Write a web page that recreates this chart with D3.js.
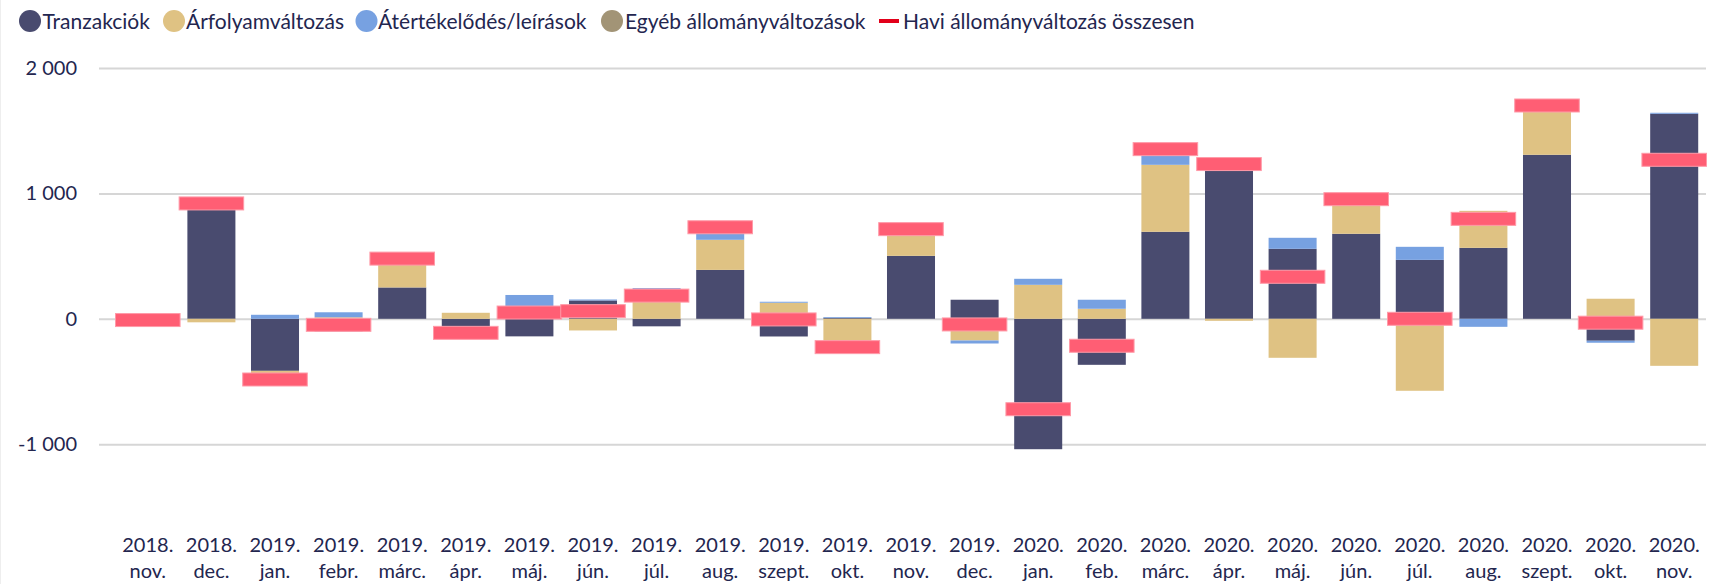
<!DOCTYPE html>
<html>
<head>
<meta charset="utf-8">
<script src="https://cdn.jsdelivr.net/npm/d3@7"></script>
<style>
  html, body { margin: 0; padding: 0; background: #ffffff; }
  svg { display: block; font-family: Lato, "Open Sans", "DejaVu Sans", sans-serif; }
</style>
</head>
<body>
<svg id="chart" width="1716" height="584"></svg>
<script>
// ---- data ----
const categoryYears  = ["2018.","2018.","2019.","2019.","2019.","2019.","2019.","2019.","2019.","2019.","2019.","2019.","2019.","2019.","2020.","2020.","2020.","2020.","2020.","2020.","2020.","2020.","2020.","2020.","2020."];
const categoryMonths = ["nov.","dec.","jan.","febr.","márc.","ápr.","máj.","jún.","júl.","aug.","szept.","okt.","nov.","dec.","jan.","feb.","márc.","ápr.","máj.","jún.","júl.","aug.","szept.","okt.","nov."];
const tranzakciok    = [-10, 945, -415, -100, 250, -160, -140, 146, -60, 390, -141, 8, 502, 152, -1040, -367, 694, 1250, 558, 678, 470, 566, 1308, -175, 1635];
const arfolyam       = [0, -28, -100, 12, 230, 48, 30, -93, 220, 240, 128, -240, 213, -173, 271, 80, 534, -16, -311, 276, -574, 295, 393, 160, -375];
const atertekelodes  = [0, 0, 32, 40, 0, 0, 160, 8, 25, 100, 8, 6, 0, -24, 48, 72, 125, 0, 88, 0, 104, -64, 0, -16, 8];
const egyeb          = [0, 0, 0, 0, 0, 0, 0, 0, 0, 0, 0, 0, 0, 0, 0, 0, 0, 0, 0, 0, 0, 0, 0, 0, 0];
const osszesen       = [-10, 920, -484, -48, 480, -112, 50, 61, 185, 730, -5, -226, 715, -45, -721, -215, 1353, 1234, 335, 954, 0, 797, 1701, -31, 1268];
const yTicks         = [-1000, 0, 1000, 2000];
const seriesNames    = ["Tranzakciók", "Árfolyamváltozás", "Átértékelődés/leírások", "Egyéb állományváltozások"];
const totalName      = "Havi állományváltozás összesen";

// ---- styles ----
const colors = ["#494B6F", "#DFC283", "#77A1E1", "#A29476"];
const markerColor = "#FF5E74";
const legendRed = "#E2001A";
const textColor = "#23264F";
const gridColor = "#D6D6D6";

const svg = d3.select("#chart");
const cats = categoryMonths.map((m, i) => i);

const rows = cats.map(i => ({
  i,
  s0: tranzakciok[i], s1: arfolyam[i], s2: atertekelodes[i], s3: egyeb[i]
}));

const x = d3.scaleBand().domain(cats).range([116, 1706]).paddingInner(0.245).paddingOuter(0.1225);
const y = d3.scaleLinear().domain([-1000, 2000]).range([444.2, 68.0]);

const loc = d3.formatLocale({decimal: ",", thousands: "\u00a0", grouping: [3], currency: ["", ""], minus: "-"});
const fmt = loc.format(",d");

// gridlines + y labels
const yAxis = d3.axisLeft(y).tickValues(yTicks).tickSize(-(1706 - 99)).tickPadding(22).tickFormat(fmt);
const gy = svg.append("g").attr("transform", "translate(99,0)").call(yAxis);
gy.select(".domain").remove();
gy.selectAll(".tick line").attr("stroke", gridColor).attr("stroke-width", 2);
gy.selectAll(".tick text").attr("fill", textColor).attr("font-size", 20)
  .attr("font-family", "Lato, 'Open Sans', sans-serif");

// stacked bars
const stack = d3.stack().keys(["s0", "s1", "s2", "s3"]).offset(d3.stackOffsetDiverging);
const layers = stack(rows);
svg.append("g").selectAll("g").data(layers).join("g")
  .attr("fill", (d, k) => colors[k])
  .selectAll("rect").data(d => d).join("rect")
  .attr("x", d => x(d.data.i))
  .attr("width", x.bandwidth())
  .attr("y", d => y(Math.max(d[0], d[1])))
  .attr("height", d => Math.abs(y(d[0]) - y(d[1])));

// total markers
const mw = x.step() * 1.015, mh = 13;
svg.append("g").selectAll("rect").data(cats).join("rect")
  .attr("x", i => x(i) + x.bandwidth() / 2 - mw / 2)
  .attr("y", i => y(osszesen[i]) - mh / 2)
  .attr("width", mw).attr("height", mh)
  .attr("fill", markerColor)
  .attr("stroke", "#FF9AA8").attr("stroke-width", 1);

// x axis labels
const xAxis = d3.axisBottom(x).tickSize(0).tickFormat(() => "");
const gx = svg.append("g").call(xAxis);
gx.select(".domain").remove();
gx.selectAll(".tick text").each(function(i) {
  const t = d3.select(this).attr("y", null).attr("dy", null)
    .attr("fill", textColor).attr("font-size", 20)
    .attr("font-family", "Lato, 'Open Sans', sans-serif");
  t.append("tspan").attr("x", 0).attr("y", 552).text(categoryYears[i]);
  t.append("tspan").attr("x", 0).attr("y", 578).text(categoryMonths[i]);
});

// left thin border
svg.append("line").attr("x1", 0.5).attr("x2", 0.5).attr("y1", 0).attr("y2", 584)
  .attr("stroke", "#EEEEEE").attr("stroke-width", 1);

// legend
const legendItems = [
  {name: seriesNames[0], cx: 30, tx: 42.5, type: "c", color: colors[0]},
  {name: seriesNames[1], cx: 174, tx: 186, type: "c", color: colors[1]},
  {name: seriesNames[2], cx: 366.5, tx: 378, type: "c", color: colors[2]},
  {name: seriesNames[3], cx: 612, tx: 625, type: "c", color: colors[3]},
  {name: totalName, cx: 889, tx: 903, type: "l", color: legendRed}
];
const lg = svg.append("g");
legendItems.forEach(it => {
  if (it.type === "c") {
    lg.append("circle").attr("cx", it.cx).attr("cy", 21).attr("r", 11).attr("fill", it.color);
  } else {
    lg.append("rect").attr("x", it.cx - 10).attr("y", 19).attr("width", 20).attr("height", 4).attr("fill", it.color);
  }
  lg.append("text").attr("x", it.tx).attr("y", 28.5).attr("font-size", 21)
    .attr("fill", textColor).text(it.name);
});
</script>
</body>
</html>
